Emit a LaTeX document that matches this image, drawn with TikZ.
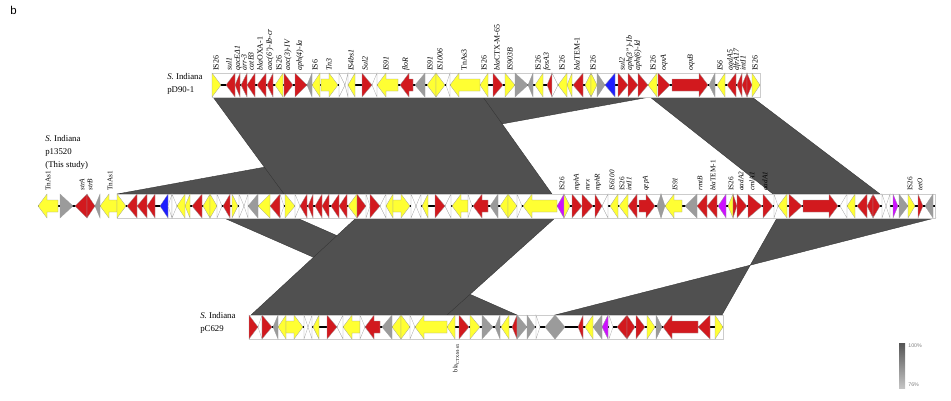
\documentclass[tikz,border=0pt]{standalone}
\usepackage{fontspec}
\setmainfont{Liberation Serif}
\setsansfont{Liberation Sans}
\usetikzlibrary{positioning}
\definecolor{gred}{HTML}{D2191E}
\definecolor{gyel}{HTML}{FFFF33}
\definecolor{ggry}{HTML}{9B9B9B}
\definecolor{gblu}{HTML}{1E1EFF}
\definecolor{gmag}{HTML}{CC11FF}
\definecolor{gwht}{HTML}{FFFFFF}
\definecolor{simfill}{HTML}{505050}
\definecolor{simedge}{HTML}{333333}
\definecolor{scalehi}{HTML}{555555}
\definecolor{scalelo}{HTML}{C4C4C4}
% #1 centre line, #2 start, #3 end, #4 kind (1 tri right, 2 tri left, 3 arrow right, 4 arrow left), #5 colour
\newcommand{\gene}[5]{%
  \ifcase#4\relax
  \or\filldraw[gene,fill=#5] (#2,#1-12) -- (#3,#1) -- (#2,#1+12) -- cycle;
  \or\filldraw[gene,fill=#5] (#3,#1-12) -- (#2,#1) -- (#3,#1+12) -- cycle;
  \or\filldraw[gene,fill=#5] (#2,#1-6) -- (#3-9,#1-6) -- (#3-9,#1-12) -- (#3,#1) -- (#3-9,#1+12) -- (#3-9,#1+6) -- (#2,#1+6) -- cycle;
  \or\filldraw[gene,fill=#5] (#3,#1-6) -- (#2+9,#1-6) -- (#2+9,#1-12) -- (#2,#1) -- (#2+9,#1+12) -- (#2+9,#1+6) -- (#3,#1+6) -- cycle;
  \fi}

\begin{document}
\begin{tikzpicture}[x=0.02cm,y=-0.02cm,
  gene/.style={draw=gray!75,line width=0.15pt},
  blast/.style={fill=simfill,draw=simedge,line width=0.2pt},
  lab/.style={rotate=90,anchor=west,inner sep=0pt,font=\fontsize{4.5}{5}\selectfont\itshape},
  plasmid/.style={align=left,anchor=west,inner sep=0pt,font=\fontsize{5}{7.4}\selectfont},
  spine/.style={line width=0.6pt},
  frame/.style={draw=gray!40,line width=0.2pt,fill=white}]
\useasboundingbox (0,0) rectangle (951,400);
\node[font=\sffamily\fontsize{6.5}{7}\selectfont,anchor=west,inner sep=0pt] (panel) at (10,10) {b};

% similarity blocks
\filldraw[blast] (477,97) -- (650,97) -- (117,194) -- (297,194) -- cycle;
\filldraw[blast] (213,97) -- (483,97) -- (552,194) -- (284,194) -- cycle;
\filldraw[blast] (650,97) -- (752,97) -- (880,194) -- (773,194) -- cycle;
\filldraw[blast] (224,218) -- (297,218) -- (517,315) -- (445,315) -- cycle;
\filldraw[blast] (356,218) -- (555,218) -- (447,315) -- (251,315) -- cycle;
\filldraw[blast] (777,218) -- (935,218) -- (555,315) -- (722,315) -- cycle;

% pD90-1
\node[plasmid] (nm1) at (167,84) {\textit{S.} Indiana\\pD90-1};
\filldraw[frame] (212,73) rectangle (760,97);
\draw[spine] (212,85) -- (760,85);
\foreach \a/\b/\t/\c in {212/221/1/gyel,226/235/2/gred,235/240/2/gred,241/247/2/gred,247/255/2/gred,
  257/266/2/gred,267/273/2/gred,275/283/2/gyel,284/293/1/gred,295/307/1/gred,307/312/2/ggry,312/320/2/gyel,
  321/338/3/gyel,339/345/1/gwht,345/348/2/gwht,348/355/2/gyel,362/372/1/gred,372/377/2/gwht,377/398/4/gyel,
  400/413/4/gred,415/425/2/ggry,427/436/2/gyel,436/445/1/gyel,446/450/2/gwht,450/480/4/gyel,480/488/2/gyel,
  493/503/1/gred,505/515/1/gyel,515/528/1/ggry,528/533/2/ggry,535/543/2/gyel,547/552/2/gred,552/558/1/gwht,
  558/567/2/gyel,567/572/2/gyel,573/583/2/gred,585/591/2/gyel,591/597/1/gyel,597/605/1/ggry,605/615/2/gblu,
  618/628/1/gred,628/638/1/gred,638/648/1/gred,648/657/2/gyel,658/670/1/gred,672/708/3/gred,709/715/2/ggry,
  717/725/2/gyel,727/736/2/gred,737/742/2/gred,742/747/2/gred,747/752/1/gred,752/760/1/gyel}
  \gene{85}{\a}{\b}{\t}{\c};
\foreach \x/\l [count=\i] in {216/\textup{IS26},229/sul1,238/qacEΔ1,244/arr-3,251/catB3,260/{bla\textup{OXA-1}},
  270/{aac(6')-Ib-cr},279/\textup{IS26},288/{aac(3)-IV},300/{aph(4)-Ia},315/\textup{IS6},329/Tn3,351/IS4bs1,
  365/Sul2,386/IS91,406/floR,430/IS91,440/IS1006,464/\textup{TnAs3},484/\textup{IS26},497/{bla\textup{CTX-M-65}},
  510/IS903B,538/\textup{IS26},547/fosA3,562/\textup{IS26},577/{bla\textup{TEM-1}},593/\textup{IS26},622/sul2,
  630/{aph(3'')-Ib},638/{aph(6)-Id},653/\textup{IS26},664/oqxA,691/oqxB,720/IS6,730/aadA5,737/dfrA17,
  743/intI1,755/\textup{IS26}}
  \node[lab] (a\i) at (\x,71) {\l};

% p13520
\node[plasmid] (nm2) at (45,152) {\textit{S.} Indiana\\p13520\\(This study)};
\filldraw[frame] (117,194) rectangle (935,218);
\draw[spine] (38,206) -- (935,206);
\foreach \a/\b/\t/\c in {38/58/4/gyel,60/73/1/ggry,75/87/2/gred,87/95/1/gred,95/100/2/ggry,100/117/4/gyel,
  117/126/1/gyel,127/137/2/gred,137/147/2/gred,147/155/2/gred,160/168/2/gblu,168/172/2/gwht,172/177/1/gwht,
  177/185/2/gyel,185/190/2/gyel,192/202/2/gred,203/210/2/gyel,210/217/1/gyel,217/222/1/gwht,223/230/2/gred,
  232/238/1/gyel,239/244/1/gwht,244/248/2/gwht,248/258/2/ggry,258/270/2/gyel,270/280/2/gred,280/284/1/gwht,
  285/295/1/gyel,295/300/1/gwht,300/307/2/gred,308/313/2/gred,315/322/2/gred,322/329/2/gred,331/339/2/gred,
  339/347/2/gred,348/357/2/gyel,357/366/1/gred,366/370/1/gwht,370/380/1/gred,380/386/2/gwht,386/393/2/gyel,
  393/410/3/gyel,411/416/1/gwht,416/421/2/gwht,422/428/2/gyel,435/445/1/gred,445/451/2/gwht,452/468/4/gyel,
  468/472/1/gwht,473/488/4/gred,490/498/2/ggry,500/508/2/gyel,508/517/1/gyel,517/522/1/gwht,523/557/4/gyel,
  557/564/2/gmag,564/570/1/gyel,572/582/1/gred,582/593/1/gred,595/602/1/gred,602/608/2/gwht,610/618/2/gyel,
  619/628/2/gyel,628/637/2/gred,639/655/3/gred,657/661/2/ggry,661/665/1/ggry,665/682/4/gyel,685/697/2/ggry,
  697/707/2/gred,707/717/2/gred,718/726/2/gmag,728/733/2/gyel,733/737/1/gred,737/747/1/gred,748/762/1/gred,
  763/773/1/gred,774/778/1/gwht,778/787/2/gyel,789/802/1/gred,803/838/3/gred,840/847/2/gwht,847/855/2/gyel,
  857/867/2/gred,867/873/2/gred,873/880/1/gred,882/886/1/gwht,886/890/2/gwht,893/898/1/gmag,899/908/1/ggry,
  908/915/1/gyel,918/923/1/gred,925/933/2/ggry}
  \gene{206}{\a}{\b}{\t}{\c};
\foreach \x/\l [count=\i] in {48/\textup{TnAs1},82/strA,90/strB,110/\textup{TnAs1},562/\textup{IS26},577/mphA,
  588/mrx,598/mphR,612/IS6100,622/\textup{IS26},629/intI1,646/qepA,675/IS91,700/rmtB,713/{bla\textup{TEM-1}},
  731/\textup{IS26},741/aadA2,752/cmlA1,765/aadA1,910/\textup{IS26},920/tetO}
  \node[lab,font=\fontsize{4.1}{5}\selectfont\itshape] (b\i) at (\x,191) {\l};

% pC629
\node[plasmid] (nm3) at (200,323) {\textit{S.} Indiana\\pC629};
\filldraw[frame] (249,315) rectangle (723,339);
\draw[spine] (249,327) -- (723,327);
\foreach \a/\b/\t/\c in {249/258/1/gred,258/262/2/gwht,262/272/1/gred,273/278/2/ggry,278/286/2/gyel,
  286/303/3/gyel,304/308/1/gwht,308/312/2/gwht,313/319/2/gyel,327/337/1/gred,337/343/2/gwht,343/360/4/gyel,
  360/365/1/gwht,365/380/4/gred,382/392/2/ggry,392/401/2/gyel,401/410/1/gyel,410/415/1/gwht,415/447/4/gyel,
  447/455/2/gyel,459/469/1/gred,470/480/1/gyel,482/493/1/ggry,495/500/2/ggry,501/509/2/gyel,512/517/2/gred,
  517/527/1/ggry,527/535/1/ggry,536/540/1/gwht,545/555/2/ggry,555/565/1/ggry,578/583/2/gred,585/593/2/gyel,
  593/602/2/ggry,602/608/2/gmag,609/613/1/gwht,617/627/2/gred,627/635/1/gred,636/645/1/gred,647/655/1/gyel,
  656/662/1/ggry,663/698/4/gred,698/710/2/gred,715/723/1/gyel}
  \gene{327}{\a}{\b}{\t}{\c};
\node[lab,anchor=east,font=\fontsize{3.6}{4}\selectfont] (c1) at (456,343) {bla\textsubscript{\upshape CTX-M-65}};

% identity scale
\shade[top color=scalehi,bottom color=scalelo] (899,343) rectangle (905,388);
\node[font=\sffamily\fontsize{3}{3}\selectfont,text=gray,anchor=west,inner sep=0pt] (hi) at (908,346) {100\%};
\node[font=\sffamily\fontsize{3}{3}\selectfont,text=gray,anchor=west,inner sep=0pt] (lo) at (908,385) {76\%};
\end{tikzpicture}
\end{document}
